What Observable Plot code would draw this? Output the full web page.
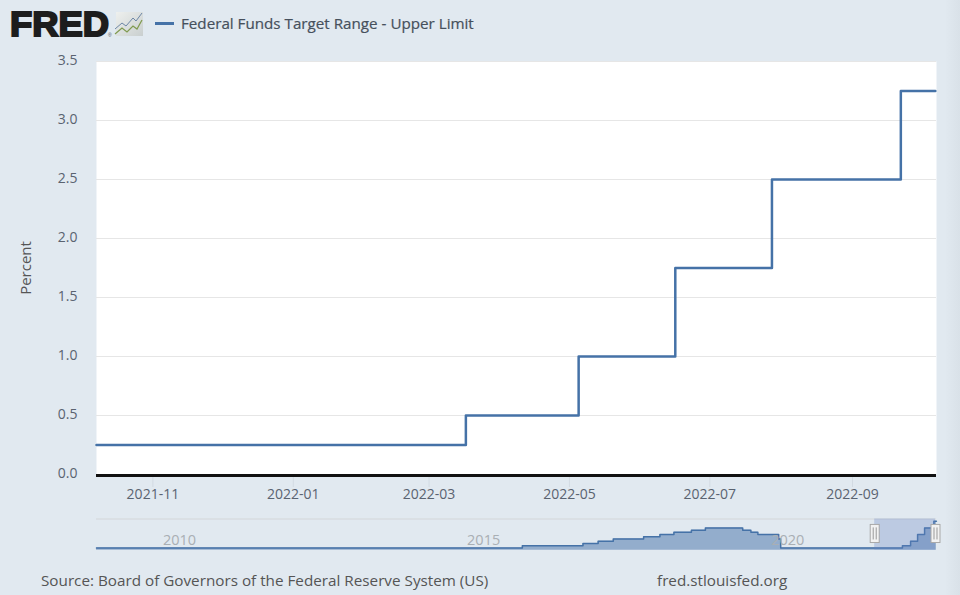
<!DOCTYPE html>
<html>
<head>
<meta charset="utf-8">
<script src="https://cdn.jsdelivr.net/npm/d3@7"></script>
<script src="https://cdn.jsdelivr.net/npm/@observablehq/plot@0.6"></script>
<style>
html,body{margin:0;padding:0;background:#e1e9f0;}
body{width:960px;height:595px;position:relative;overflow:hidden;font-family:"Open Sans",sans-serif;color:#555;}
.abs{position:absolute;white-space:nowrap;}
#strip{left:945px;top:0;width:15px;height:595px;background:linear-gradient(to right,#e1e9f0,#d9e1e8);}
#legend{left:181px;top:13px;font-size:15.2px;font-weight:500;line-height:20px;color:#46505c;-webkit-text-stroke:.2px #46505c;}
#swatch{left:155px;top:22px;width:19px;height:2.5px;background:#4572a7;}
#source{left:41px;top:569px;font-size:15.25px;line-height:22px;}
#site{left:657px;top:569px;font-size:15.25px;line-height:22px;}
#logo{left:0;top:0;}
#main{left:0;top:0;}
#nav{left:0;top:505px;}
</style>
</head>
<body>
<div id="strip" class="abs"></div>
<svg id="logo" class="abs" width="150" height="45">
  <defs><linearGradient id="lg" x1="0" y1="0" x2="1" y2="1"><stop offset="0" stop-color="#eef0ee"/><stop offset="1" stop-color="#c9cfcf"/></linearGradient></defs>
  <text x="10" y="35.5" font-family="Liberation Sans" font-weight="700" font-size="35" fill="#1d1d1d" stroke="#1d1d1d" stroke-width="2" textLength="99" lengthAdjust="spacingAndGlyphs">FRED</text>
  <text x="108" y="37" font-family="Liberation Sans" font-size="5" fill="#555">®</text>
  <rect x="116" y="12" width="27" height="24" fill="url(#lg)"/>
  <polyline points="115,29 122,23 126,26 133,18 136,21 142,13" fill="none" stroke="#6c86a6" stroke-width="1"/>
  <polyline points="115,34 122,28 127,32 133,26 137,29 142,20" fill="none" stroke="#7f9a4e" stroke-width="1.2"/>
</svg>
<div id="swatch" class="abs"></div>
<div id="legend" class="abs">Federal Funds Target Range - Upper Limit</div>
<div id="main" class="abs"></div>
<div id="nav" class="abs"></div>
<div id="source" class="abs">Source: Board of Governors of the Federal Reserve System (US)</div>
<div id="site" class="abs">fred.stlouisfed.org</div>
<script>
// Main chart series (step dates / values)
const mainDates = ["2021-10-07T12:00Z","2022-03-17T00:00Z","2022-05-05T00:00Z","2022-06-16T00:00Z","2022-07-28T00:00Z","2022-09-22T00:00Z","2022-10-07T00:00Z"];
const mainValues = [0.25,0.5,1.0,1.75,2.5,3.25,3.25];
const yTicks = [0,0.5,1,1.5,2,2.5,3,3.5];
const xTickDates = ["2021-11-01","2022-01-01","2022-03-01","2022-05-01","2022-07-01","2022-09-01"];

// Navigator series (full history)
const navDates = ["2008-12-16","2015-12-17","2016-12-15","2017-03-16","2017-06-15","2017-12-14","2018-03-22","2018-06-14","2018-09-27","2018-12-20","2019-08-01","2019-09-19","2019-10-31","2020-03-04","2020-03-16","2022-03-17","2022-05-05","2022-06-16","2022-07-28","2022-09-22","2022-10-07"];
const navValues = [0.25,0.5,0.75,1.0,1.25,1.5,1.75,2.0,2.25,2.5,2.25,2.0,1.75,1.25,0.25,0.5,1.0,1.75,2.5,3.25,3.25];
const navYears = ["2010-01-01","2015-01-01","2020-01-01"];
const windowStart = "2021-10-07T12:00Z";
const windowEnd = "2022-10-07T12:00Z";

const toDate = s => new Date(s);
const main = mainDates.map((d,i)=>({date:toDate(d),value:mainValues[i]}));
const nav = navDates.map((d,i)=>({date:toDate(d),value:navValues[i]}));
const lineColor = "#4572a7";
const font = '"Open Sans",sans-serif';

document.getElementById("main").append(Plot.plot({
  width:960,height:510,
  marginLeft:96,marginRight:24,marginTop:61,marginBottom:36,
  style:{background:"transparent",fontFamily:font,fontSize:"14px"},
  x:{type:"utc",domain:[toDate(windowStart),toDate(windowEnd)]},
  y:{domain:[0,3.5]},
  marks:[
    Plot.frame({fill:"white",stroke:null}),
    Plot.gridY(yTicks.slice(1),{stroke:"#e6e6e6",strokeOpacity:1}),
    Plot.axisY({ticks:yTicks,tickFormat:d3.format(".1f"),tickSize:0,tickPadding:19,dy:-1,fill:"#5a6370",label:null}),
    Plot.axisY({ticks:[],label:"Percent",labelAnchor:"center",labelArrow:"none",labelOffset:76,fontSize:15,fill:"#555"}),
    Plot.axisX({ticks:xTickDates.map(toDate),tickFormat:d3.utcFormat("%Y-%m"),tickSize:13,tickPadding:2,
      stroke:"#d3dbe3",fill:"#5a6370",label:null}),
    Plot.ruleY([0],{stroke:"#111",strokeWidth:3,dy:1}),
    Plot.line(main,{x:"date",y:"value",curve:"step-after",stroke:lineColor,strokeWidth:2.5})
  ]
}));

document.getElementById("nav").append(Plot.plot({
  width:960,height:50,
  marginLeft:96,marginRight:24,marginTop:13.5,marginBottom:5.3,
  style:{background:"transparent",fontFamily:font,fontSize:"14.5px"},
  x:{type:"utc",domain:[toDate(navDates[0]),toDate(windowEnd)],axis:null},
  y:{domain:[0,3.5],axis:null},
  marks:[
    Plot.ruleY([3.5],{stroke:"#d3d6d9"}),
    Plot.areaY(nav,{x:"date",y:"value",curve:"step-after",fill:lineColor,fillOpacity:.5}),
    Plot.line(nav,{x:"date",y:"value",curve:"step-after",stroke:lineColor,strokeWidth:1.5}),
    Plot.text(navYears,{x:d=>toDate(d),y:1.1,dx:3,text:d=>d.slice(0,4),textAnchor:"start",fill:"#a9afb4"}),
    Plot.rectY([0],{x1:()=>toDate(windowStart),x2:()=>toDate(windowEnd),y1:0,y2:3.5,fill:"#6685c2",fillOpacity:.3,dx:-1}),
    Plot.ruleX([windowStart,windowEnd],{x:toDate,y1:.75,y2:2.89,stroke:"#a8a8a8",strokeWidth:10,dx:-1}),
    Plot.ruleX([windowStart,windowEnd],{x:toDate,y1:.86,y2:2.78,stroke:"#f2f2f2",strokeWidth:8,dx:-1}),
    Plot.ruleX([windowStart,windowEnd],{x:toDate,y1:1.15,y2:2.5,stroke:"#999",strokeWidth:1,dx:-2.5}),
    Plot.ruleX([windowStart,windowEnd],{x:toDate,y1:1.15,y2:2.5,stroke:"#999",strokeWidth:1,dx:.5})
  ]
}));
</script>
</body>
</html>
